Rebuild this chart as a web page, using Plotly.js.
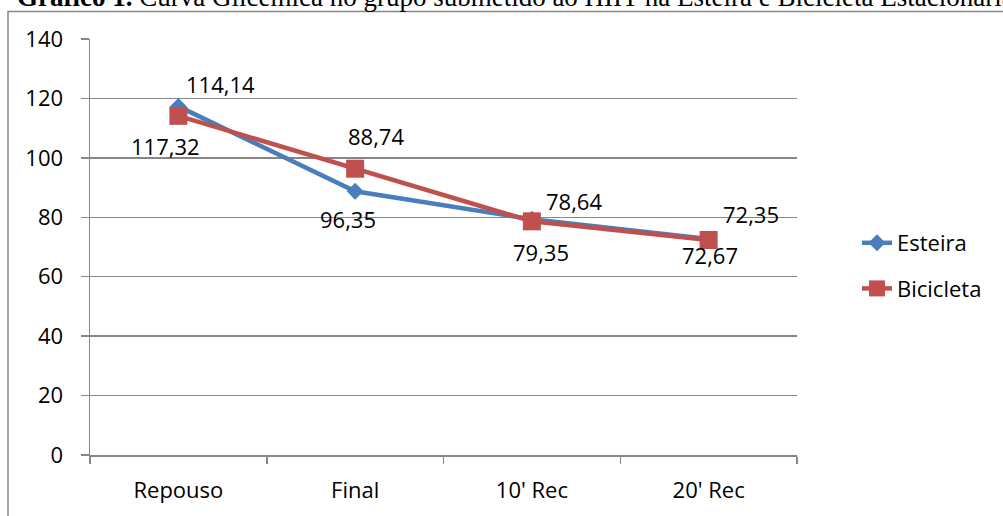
<!DOCTYPE html>
<html>
<head>
<meta charset="utf-8">
<script src="https://cdn.plot.ly/plotly-3.0.1.min.js"></script>
<style>
  html, body { margin: 0; padding: 0; background: #fff; }
  #chart { width: 1003px; height: 516px; }
</style>
</head>
<body>
<div id="chart"></div>
<script>
// ---- data ----
const categories = ['Repouso', 'Final', "10' Rec", "20' Rec"];
const esteira = [117.32, 88.74, 79.35, 72.67];
const bicicleta = [114.14, 96.35, 78.64, 72.35];
const seriesNames = ['Esteira', 'Bicicleta'];
const yTicks = [0, 20, 40, 60, 80, 100, 120, 140];

// ---- styling (label offsets in px) ----
const esteiraShift = [[-13, -40], [21, 55], [9, -33], [1, -16]];
const bicicletaShift = [[42, 32], [-7, -50], [42, 20], [42, 26]];

const FONT = 'Open Sans, Liberation Sans, sans-serif';
const GRID = '#868686';
const fmt = v => v.toFixed(2).replace('.', ',');

const traces = [
  {
    x: categories, y: esteira, name: seriesNames[0], type: 'scatter', mode: 'lines+markers',
    line: { color: '#4A7EBB', width: 4.5 },
    marker: { symbol: 'diamond', size: 13, color: '#4A7EBB' },
    legendgroup: 'a', cliponaxis: false
  },
  {
    x: categories, y: bicicleta, name: seriesNames[1], type: 'scatter', mode: 'lines+markers',
    line: { color: '#C0504D', width: 4.5 },
    marker: { symbol: 'square', size: 18, color: '#C0504D' },
    legendgroup: 'b', cliponaxis: false
  }
];

const annotations = [];
function addLabels(vals, shifts) {
  vals.forEach((v, i) => {
    annotations.push({
      x: categories[i], y: v, xref: 'x', yref: 'y', text: fmt(v), showarrow: false,
      xshift: shifts[i][0], yshift: shifts[i][1],
      font: { family: FONT, size: 22, color: '#000' }
    });
  });
}
addLabels(esteira, esteiraShift);
addLabels(bicicleta, bicicletaShift);

annotations.push({
  xref: 'paper', yref: 'paper', x: (15 - 90) / 707, y: (455 + 3) / 416,
  xanchor: 'left', yanchor: 'middle', showarrow: false,
  text: '<b>Gráfico 1.</b> Curva Glicêmica no grupo submetido ao HIIT na Esteira e Bicicleta Estacionária',
  font: { family: 'Liberation Serif, serif', size: 27, color: '#000' }
});

const layout = {
  width: 1003, height: 516,
  margin: { l: 90, r: 206, t: 39, b: 61 },
  paper_bgcolor: '#fff', plot_bgcolor: '#fff',
  showlegend: true,
  legend: {
    x: (857 - 90) / 707, y: (455 - 266) / 416, xanchor: 'left', yanchor: 'middle',
    font: { family: FONT, size: 22, color: '#000' },
    traceorder: 'grouped', tracegroupgap: 14, bgcolor: 'rgba(0,0,0,0)'
  },
  xaxis: {
    type: 'category', range: [-0.5, 3.5], showgrid: false,
    showline: true, linecolor: GRID, linewidth: 1.5,
    ticks: 'outside', tickson: 'boundaries', ticklen: 7, tickcolor: GRID, tickwidth: 1.5,
    ticklabelstandoff: 15,
    tickfont: { family: FONT, size: 22, color: '#000' }, fixedrange: true
  },
  yaxis: {
    range: [0, 140], tickvals: yTicks, showgrid: true, gridcolor: GRID, gridwidth: 1.3,
    zeroline: false, showline: true, linecolor: GRID, linewidth: 1.5,
    ticks: 'outside', ticklen: 8, tickcolor: GRID, tickwidth: 1.5,
    ticklabelstandoff: 13,
    tickfont: { family: FONT, size: 22, color: '#000' }, fixedrange: true
  },
  shapes: [{
    type: 'path', xref: 'paper', yref: 'paper',
    path: 'M ' + ((8 - 90) / 707) + ' ' + ((455 - 530) / 416) +
          ' L ' + ((8 - 90) / 707) + ' ' + ((455 - 11.5) / 416) +
          ' L ' + ((1020 - 90) / 707) + ' ' + ((455 - 11.5) / 416),
    line: { color: GRID, width: 1.5 }
  }],
  annotations: annotations
};

Plotly.newPlot('chart', traces, layout, { displayModeBar: false, staticPlot: true });
</script>
</body>
</html>
